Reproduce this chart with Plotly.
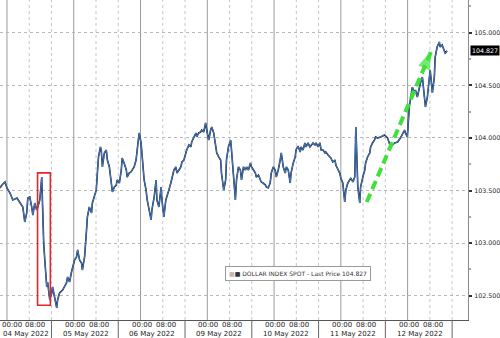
import plotly.graph_objects as go

# ---- data (hours since 04 May 2022 00:00, counting trading days only; DXY spot) ----
day_labels = ["04 May 2022", "05 May 2022", "06 May 2022", "09 May 2022",
              "10 May 2022", "11 May 2022", "12 May 2022"]
time_labels = ["00:00", "08:00"]
time_hours = [0, 8]

hours = [-2.5, -1.8, -0.7, 0.0, 1.1, 2.1, 3.6, 4.6, 5.7, 6.4, 7.1, 7.5, 8.2, 8.9, 9.3, 10.0,
         10.7, 11.1, 11.8, 12.5, 12.9, 13.2, 13.6, 13.9, 14.3, 14.6, 15.0, 15.4, 16.1, 16.4,
         17.1, 17.9, 18.2, 18.9, 20.0, 21.4, 21.8, 22.5, 23.2, 24.3, 25.0, 25.4, 26.1, 26.8,
         27.1, 27.9, 28.6, 28.9, 29.6, 30.4, 30.7, 31.4, 32.1, 32.5, 32.9, 33.6, 33.9, 34.3,
         35.0, 35.7, 36.1, 36.8, 37.5, 37.9, 38.6, 39.3, 39.6, 40.4, 41.1, 41.4, 42.1, 42.9,
         43.2, 43.9, 44.6, 45.0, 45.7, 46.4, 46.8, 47.5, 48.2, 48.6, 49.3, 50.0, 50.4, 51.1,
         51.8, 52.1, 52.9, 53.6, 53.9, 54.6, 55.4, 55.7, 56.4, 57.1, 57.5, 58.2, 58.9, 59.3,
         60.0, 60.7, 61.1, 61.8, 62.5, 62.9, 63.6, 64.3, 64.6, 65.4, 66.1, 66.4, 67.1, 67.9,
         68.2, 68.9, 69.6, 70.0, 70.7, 71.4, 71.8, 72.5, 73.2, 73.6, 74.3, 75.0, 75.4, 76.1,
         76.8, 77.1, 77.9, 78.6, 78.9, 79.6, 80.4, 80.7, 81.4, 82.1, 82.5, 83.2, 83.9, 84.3,
         85.0, 85.7, 86.1, 86.8, 87.5, 87.9, 88.6, 89.3, 89.6, 90.4, 91.1, 91.4, 92.1, 92.9,
         93.2, 93.9, 94.6, 95.0, 95.7, 96.4, 96.8, 97.5, 98.2, 98.6, 99.3, 100.0, 100.4, 101.1,
         101.8, 102.1, 102.9, 103.6, 103.9, 104.6, 105.4, 105.7, 106.4, 107.1, 107.5, 108.2,
         108.9, 109.3, 110.0, 110.7, 111.1, 111.8, 112.5, 112.9, 113.6, 114.3, 114.6, 115.4,
         116.1, 116.4, 117.1, 117.9, 118.2, 118.9, 119.6, 120.0, 120.7, 121.4, 121.8, 122.5,
         123.2, 123.6, 124.3, 125.0, 125.4, 125.7, 126.1, 126.8, 127.1, 127.9, 128.6, 128.9,
         129.6, 130.4, 130.7, 131.4, 132.1, 132.5, 133.2, 134.3, 135.7, 136.8, 137.9, 139.3,
         140.4, 141.4, 142.9, 143.2, 143.9, 144.6, 145.0, 145.7, 146.4, 146.8, 147.5, 148.2,
         148.6, 149.3, 150.0, 150.4, 151.1, 151.8, 152.1, 152.9, 153.6, 153.9, 154.6, 155.4,
         155.7, 156.4, 157.1, 157.5, 158.2]

prices = [103.524, 103.552, 103.581, 103.524, 103.476, 103.410, 103.429, 103.391, 103.343,
          103.201, 103.286, 103.429, 103.438, 103.343, 103.267, 103.381, 103.315, 103.343,
          103.410, 103.628, 103.248, 103.001, 102.839, 102.716, 102.583, 102.630, 102.507,
          102.459, 102.526, 102.583, 102.488, 102.383, 102.459, 102.526, 102.554, 102.621,
          102.678, 102.630, 102.725, 102.839, 102.868, 102.935, 102.839, 102.811, 102.744,
          102.868, 103.125, 103.248, 103.343, 103.286, 103.381, 103.438, 103.505, 103.666,
          103.819, 103.914, 103.885, 103.724, 103.857, 103.885, 103.790, 103.724, 103.571,
          103.486, 103.533, 103.552, 103.600, 103.571, 103.695, 103.809, 103.762, 103.695,
          103.628, 103.666, 103.676, 103.695, 103.724, 103.790, 103.866, 104.047, 103.952,
          103.819, 103.600, 103.505, 103.410, 103.315, 103.220, 103.315, 103.438, 103.600,
          103.410, 103.343, 103.533, 103.410, 103.248, 103.410, 103.438, 103.505, 103.571,
          103.628, 103.695, 103.724, 103.666, 103.695, 103.724, 103.771, 103.790, 103.857,
          103.885, 103.933, 103.914, 103.961, 104.009, 104.047, 104.009, 104.047, 104.056,
          104.075, 104.056, 104.142, 104.075, 103.980, 104.075, 104.104, 104.047, 103.914,
          103.857, 103.819, 103.790, 103.666, 103.505, 103.600, 103.790, 103.914, 103.980,
          103.885, 103.666, 103.410, 103.600, 103.724, 103.695, 103.600, 103.724, 103.695,
          103.724, 103.695, 103.762, 103.724, 103.695, 103.666, 103.628, 103.647, 103.600,
          103.581, 103.571, 103.552, 103.533, 103.524, 103.571, 103.666, 103.724, 103.695,
          103.628, 103.695, 103.790, 103.857, 103.724, 103.666, 103.724, 103.695, 103.571,
          103.666, 103.762, 103.819, 103.885, 103.923, 103.866, 103.914, 103.885, 103.952,
          103.914, 103.952, 103.914, 103.933, 103.952, 103.933, 103.952, 103.914, 103.952,
          103.885, 103.885, 103.857, 103.866, 103.838, 103.819, 103.809, 103.771, 103.790,
          103.742, 103.695, 103.666, 103.619, 103.571, 103.391, 103.505, 103.571, 103.600,
          103.619, 103.581, 103.628, 104.104, 103.724, 103.533, 103.381, 103.533, 103.628,
          103.695, 103.762, 103.819, 103.857, 103.914, 103.952, 103.980, 104.009, 103.999,
          104.009, 104.028, 103.999, 103.914, 103.952, 103.961, 103.999, 104.075, 104.047,
          104.009, 104.294, 104.360, 104.484, 104.427, 104.455, 104.389, 104.484, 104.522,
          104.579, 104.389, 104.294, 104.389, 104.551, 104.646, 104.427, 104.579, 104.769,
          104.864, 104.912, 104.864, 104.883, 104.836, 104.807, 104.827]

y_ticks = [102.5, 103.0, 103.5, 104.0, 104.5, 105.0]

# highlighted drop (hours window) and hand-drawn trend arrow (hours, price)
drop_window = [11.0, 15.6]
trend_hours = [129.3, 152.6]
trend_prices = [103.39, 104.83]

series_name = "DOLLAR INDEX SPOT - Last Price"

# ---- figure ----
FONT = "DejaVu Sans"
X_RANGE = [-2.5, 165.7]
fig = go.Figure()

n_days = len(day_labels)
for d in range(n_days):
    fig.add_shape(type="line", xref="x", yref="paper", x0=d * 24, x1=d * 24, y0=0, y1=1,
                  line=dict(color="#9a9a9a", width=1), layer="below")
    for hh in (8, 16):
        fig.add_shape(type="line", xref="x", yref="paper", x0=d * 24 + hh, x1=d * 24 + hh,
                      y0=0, y1=1, line=dict(color="#c8c8c8", width=1, dash="dot"), layer="below")
    # separators in the label band
    fig.add_shape(type="line", xref="x", yref="paper", x0=d * 24 + 16, x1=d * 24 + 16,
                  y0=0, y1=-0.06, line=dict(color="#666", width=1))
    # time labels
    for lab, hh in zip(time_labels, time_hours):
        t = d * 24 + hh
        if t <= X_RANGE[0] + 4:
            fig.add_annotation(x=X_RANGE[0], xref="x", y=-0.016, yref="paper", text=lab,
                               showarrow=False, font=dict(family=FONT, size=7, color="#222"),
                               xanchor="left", yanchor="middle", xshift=0)
        else:
            off = 0.4 if hh == 0 else (2.2 if d == 0 else 1.0)
            fig.add_annotation(x=t + off, xref="x", y=-0.016,
                               yref="paper", text=lab, showarrow=False,
                               font=dict(family=FONT, size=7, color="#222"),
                               xanchor="center", yanchor="middle")
    # date labels
    if d == 0:
        fig.add_annotation(x=X_RANGE[0], xref="x", y=-0.044, yref="paper", text=day_labels[d],
                           showarrow=False, font=dict(family=FONT, size=7, color="#222"),
                           xanchor="left", yanchor="middle", xshift=1)
    else:
        fig.add_annotation(x=d * 24 + 4.3, xref="x", y=-0.044, yref="paper", text=day_labels[d],
                           showarrow=False, font=dict(family=FONT, size=7, color="#222"),
                           xanchor="center", yanchor="middle")

fig.add_trace(go.Scatter(x=hours, y=prices, mode="lines",
                         line=dict(color="#14223a", width=1.6), showlegend=False,
                         hoverinfo="skip"))
fig.add_trace(go.Scatter(x=hours, y=prices, mode="lines", name=series_name,
                         line=dict(color="#4a80c8", width=0.9), showlegend=False,
                         hoverinfo="skip"))

# red box around the drop
win = [p for h, p in zip(hours, prices) if drop_window[0] <= h <= drop_window[1]]
fig.add_shape(type="rect", xref="x", yref="y", x0=drop_window[0], x1=drop_window[1],
              y0=min(win) - 0.05, y1=max(win) + 0.04,
              line=dict(color="#e3262b", width=1.6))

# green dashed trend arrow
fig.add_trace(go.Scatter(x=trend_hours, y=trend_prices, mode="lines",
                         line=dict(color="#3fe03a", width=4, dash="9px,5px"),
                         showlegend=False, hoverinfo="skip"))
fig.add_trace(go.Scatter(x=trend_hours, y=trend_prices, mode="markers",
                         marker=dict(symbol="arrow", size=[0, 20], angleref="previous",
                                     color="#3fe03a", line=dict(width=0)),
                         showlegend=False, hoverinfo="skip"))

# legend box
fig.add_annotation(x=0.636, xref="paper", y=0.145, yref="paper",
                   text="<span style='color:#bbbbbb'>■</span>■ " + series_name + f" {prices[-1]:.3f}",
                   showarrow=False, font=dict(family=FONT, size=6, color="#333"),
                   bgcolor="white", bordercolor="#9a9a9a", borderwidth=1, borderpad=3,
                   xanchor="center", yanchor="middle")

# last price tag
fig.add_annotation(x=1, xref="paper", y=prices[-1], yref="y", text=f"{prices[-1]:.3f}",
                   showarrow=False, xanchor="left", yanchor="middle", xshift=2,
                   font=dict(family=FONT, size=6.3, color="white"), bgcolor="black",
                   borderpad=1)

fig.update_layout(
    width=500, height=338,
    margin=dict(l=0, r=29, t=0, b=18),
    paper_bgcolor="white", plot_bgcolor="white",
    showlegend=False,
    xaxis=dict(range=X_RANGE, showticklabels=False,
               showgrid=False, zeroline=False, showline=True, linecolor="#555",
               linewidth=1, ticks=""),
    yaxis=dict(range=[102.269, 105.311], side="right", tickvals=y_ticks,
               tickformat=".3f", showgrid=True, gridcolor="#b8b8b8", griddash="dot",
               gridwidth=1, zeroline=False, showline=True, linecolor="#8a8a8a",
               linewidth=1, ticks="outside", ticklen=3, tickwidth=2, tickcolor="#333",
               ticklabelstandoff=1,
               minor=dict(dtick=0.25, ticks="outside", ticklen=2, tickcolor="#aaa",
                          showgrid=False),
               tickfont=dict(family=FONT, size=6.3, color="#222")),
)

fig.write_html("out.html")
